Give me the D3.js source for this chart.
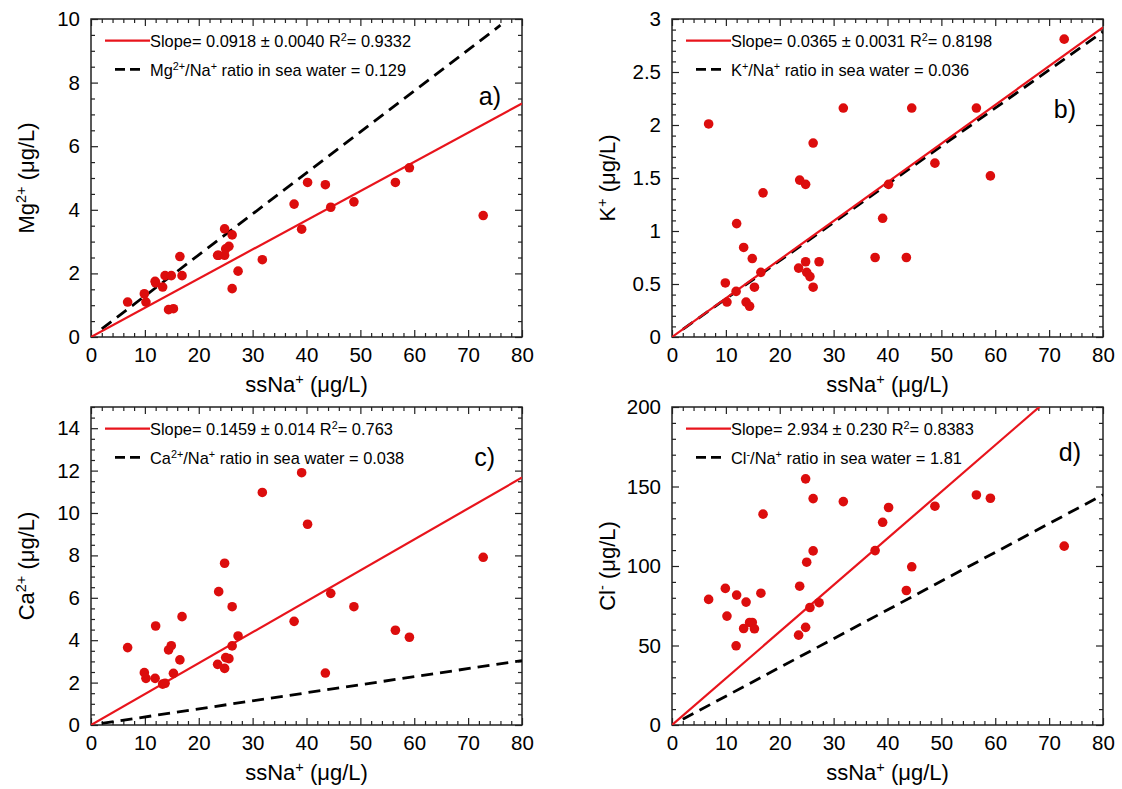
<!DOCTYPE html>
<html><head><meta charset="utf-8">
<script src="https://cdn.jsdelivr.net/npm/d3@7"></script>
<style>
body{margin:0;background:#fff;}
text{font-family:"Liberation Sans",Arial,sans-serif;fill:#000;white-space:pre;}
</style>
</head><body><svg id="chart" width="1122" height="789"></svg>
<script>
// ---------- data ----------
const ssNa = [6.8, 9.9, 10.2, 11.9, 12.0, 13.3, 13.75, 14.4, 14.9, 15.3, 16.5, 16.9, 23.5, 23.7, 24.8, 24.8, 25.0, 25.6, 26.2, 26.2, 27.3, 31.8, 37.7, 39.1, 40.2, 43.5, 44.5, 48.8, 56.5, 59.1, 72.8];
const mgValues = [1.10, 1.36, 1.10, 1.75, 1.70, 1.57, 1.93, 0.86, 1.93, 0.89, 2.53, 1.93, 2.57, 2.57, 3.40, 2.57, 2.77, 2.85, 3.21, 1.52, 2.07, 2.43, 4.18, 3.39, 4.86, 4.79, 4.08, 4.25, 4.86, 5.32, 3.82];
const kValues = [2.01, 0.51, 0.33, 0.43, 1.07, 0.845, 0.33, 0.29, 0.74, 0.47, 0.61, 1.36, 0.65, 1.48, 1.44, 0.71, 0.61, 0.57, 0.47, 1.83, 0.71, 2.16, 0.75, 1.12, 1.44, 0.75, 2.16, 1.64, 2.16, 1.52, 2.81];
const caValues = [3.65, 2.47, 2.20, 2.20, 4.67, 1.93, 1.97, 3.54, 3.74, 2.44, 3.07, 5.11, 2.86, 6.29, 7.63, 2.67, 3.18, 3.13, 5.58, 3.73, 4.20, 10.97, 4.89, 11.90, 9.47, 2.45, 6.21, 5.58, 4.47, 4.14, 7.91];
const clValues = [79, 85.9, 68.5, 49.8, 81.7, 60.7, 77.3, 64.5, 64.5, 60.5, 82.9, 132.6, 56.5, 87.3, 61.4, 154.8, 102.4, 73.9, 142.4, 109.5, 76.9, 140.5, 109.7, 127.5, 136.8, 84.6, 99.5, 137.6, 144.7, 142.6, 112.5];

const panelNames = ["a)", "b)", "c)", "d)"];
const ionBase = ["Mg", "K", "Ca", "Cl"];
const ionCharge = ["2+", "+", "2+", "-"];
const slopes = [0.0918, 0.0365, 0.1459, 2.934];
const slopeErrText = ["0.0040", "0.0031", "0.014", "0.230"];
const slopeText = ["0.0918", "0.0365", "0.1459", "2.934"];
const r2Text = ["0.9332", "0.8198", "0.763", "0.8383"];
const seaRatios = [0.129, 0.036, 0.038, 1.81];
const seaRatioText = ["0.129", "0.036", "0.038", "1.81"];
const seaLineStart = [2, 2, 2, 2];
const seaLineEnd = [76, 80, 80, 80];
const xDomain = [0, 80];
const xMajorTicks = [0, 10, 20, 30, 40, 50, 60, 70, 80];
const yMax = [10, 3, 15, 200];
const yMajorTicks = [[0, 2, 4, 6, 8, 10], [0, 0.5, 1, 1.5, 2, 2.5, 3], [0, 2, 4, 6, 8, 10, 12, 14], [0, 50, 100, 150, 200]];
const yMinorStep = [0.5, 0.1, 0.5, 10];
const xMinorStep = 2;
const allY = [mgValues, kValues, caValues, clValues];

// ---------- layout ----------
const W = 431, H = 318;
const origins = [[91, 19], [672, 19], [91, 407], [672, 407]];
const labelPos = [[410, 86], [404, 99], [404, 59], [409, 54]];
const RED = "#e8141c", DOT = "#dc0d0d";
const FONT = "'Liberation Sans',Arial,sans-serif";

const svg = d3.select("#chart");

function rich(sel, parts, fs) {
  parts.forEach(p => {
    const t = sel.append("tspan").text(p[0]);
    if (p[1]) t.attr("baseline-shift", "super").attr("font-size", fs * 0.66);
  });
}

for (let i = 0; i < 4; i++) {
  const [ox, oy] = origins[i];
  const g = svg.append("g").attr("transform", `translate(${ox},${oy})`);
  const x = d3.scaleLinear().domain(xDomain).range([0, W]);
  const y = d3.scaleLinear().domain([0, yMax[i]]).range([H, 0]);

  const xMinor = d3.range(0, 80 + 1e-9, xMinorStep).filter(v => v % 10 !== 0);
  const yMinor = d3.range(0, yMax[i] + 1e-9, yMinorStep[i]).map(v => +v.toFixed(4)).filter(v => !yMajorTicks[i].some(m => Math.abs(m - v) < 1e-6));

  const fs = 20.5, tfs = 22;
  // bottom
  g.append("g").attr("transform", `translate(0,${H})`)
    .call(d3.axisBottom(x).tickValues(xMajorTicks).tickFormat(d3.format("d")).tickSizeInner(-7).tickSizeOuter(0).tickPadding(10))
    .call(a => { a.select(".domain").remove(); a.selectAll("text").attr("font-size", fs).style("font-family", FONT); });
  g.append("g").attr("transform", `translate(0,${H})`)
    .call(d3.axisBottom(x).tickValues(xMinor).tickFormat("").tickSizeInner(-4).tickSizeOuter(0))
    .call(a => a.select(".domain").remove());
  // top
  g.append("g").call(d3.axisTop(x).tickValues(xMajorTicks).tickFormat("").tickSizeInner(-7).tickSizeOuter(0)).call(a => a.select(".domain").remove());
  g.append("g").call(d3.axisTop(x).tickValues(xMinor).tickFormat("").tickSizeInner(-4).tickSizeOuter(0)).call(a => a.select(".domain").remove());
  // left
  g.append("g")
    .call(d3.axisLeft(y).tickValues(yMajorTicks[i]).tickFormat(d => String(d)).tickSizeInner(-7).tickSizeOuter(0).tickPadding(11))
    .call(a => { a.select(".domain").remove(); a.selectAll("text").attr("font-size", fs).style("font-family", FONT); });
  g.append("g").call(d3.axisLeft(y).tickValues(yMinor).tickFormat("").tickSizeInner(-4).tickSizeOuter(0)).call(a => a.select(".domain").remove());
  // right
  g.append("g").attr("transform", `translate(${W},0)`).call(d3.axisRight(y).tickValues(yMajorTicks[i]).tickFormat("").tickSizeInner(-7).tickSizeOuter(0)).call(a => a.select(".domain").remove());
  g.append("g").attr("transform", `translate(${W},0)`).call(d3.axisRight(y).tickValues(yMinor).tickFormat("").tickSizeInner(-4).tickSizeOuter(0)).call(a => a.select(".domain").remove());
  g.selectAll(".tick line").attr("stroke", "#222").attr("stroke-width", 1.2);

  g.append("rect").attr("width", W).attr("height", H).attr("fill", "none").attr("stroke", "#222").attr("stroke-width", 1.5);

  // clip
  const cid = "clip" + i;
  g.append("clipPath").attr("id", cid).append("rect").attr("width", W).attr("height", H);
  const lines = g.append("g").attr("clip-path", `url(#${cid})`);

  // sea water ratio (dashed)
  const line = d3.line().x(d => x(d[0])).y(d => y(d[1]));
  lines.append("path")
    .attr("d", line([[seaLineStart[i], seaRatios[i] * seaLineStart[i]], [seaLineEnd[i], seaRatios[i] * seaLineEnd[i]]]))
    .attr("stroke", "#000").attr("stroke-width", 2.8).attr("stroke-dasharray", "12,7").attr("fill", "none");
  // regression (red)
  lines.append("path")
    .attr("d", line([[0, 0], [80, slopes[i] * 80]]))
    .attr("stroke", RED).attr("stroke-width", 2.2).attr("fill", "none");

  // points
  g.append("g").selectAll("circle").data(ssNa.map((v, j) => [v, allY[i][j]])).join("circle")
    .attr("cx", d => x(d[0])).attr("cy", d => y(d[1])).attr("r", 4.8).attr("fill", DOT);

  // legend
  const lfs = 16.4;
  g.append("line").attr("x1", 14).attr("x2", 59).attr("y1", 21.7).attr("y2", 21.7).attr("stroke", RED).attr("stroke-width", 2.2);
  const t1 = g.append("text").attr("x", 59).attr("y", 28.3).attr("font-size", lfs);
  rich(t1, [["Slope= " + slopeText[i] + " \u00b1 " + slopeErrText[i] + " R"], ["2", true], ["= " + r2Text[i]]], lfs);
  g.append("line").attr("x1", 24).attr("x2", 49).attr("y1", 50.3).attr("y2", 50.3).attr("stroke", "#000").attr("stroke-width", 2.8).attr("stroke-dasharray", "10,5");
  const t2 = g.append("text").attr("x", 59).attr("y", 57).attr("font-size", lfs);
  rich(t2, [[ionBase[i]], [ionCharge[i], true], ["/Na"], ["+", true], [" ratio in sea water = " + seaRatioText[i]]], lfs);

  // panel label
  g.append("text").attr("x", labelPos[i][0]).attr("y", labelPos[i][1]).attr("text-anchor", "end").attr("font-size", 25).text(panelNames[i]);

  // x title
  const xt = g.append("text").attr("x", W / 2).attr("y", H + 55).attr("text-anchor", "middle").attr("font-size", tfs);
  rich(xt, [["ssNa"], ["+", true], [" (\u03bcg/L)"]], tfs);
  // y title
  const yt = g.append("text").attr("transform", `translate(-57,${H / 2}) rotate(-90)`).attr("text-anchor", "middle").attr("font-size", tfs);
  rich(yt, [[ionBase[i]], [ionCharge[i], true], [" (\u03bcg/L)"]], tfs);
}
</script>
</body></html>
